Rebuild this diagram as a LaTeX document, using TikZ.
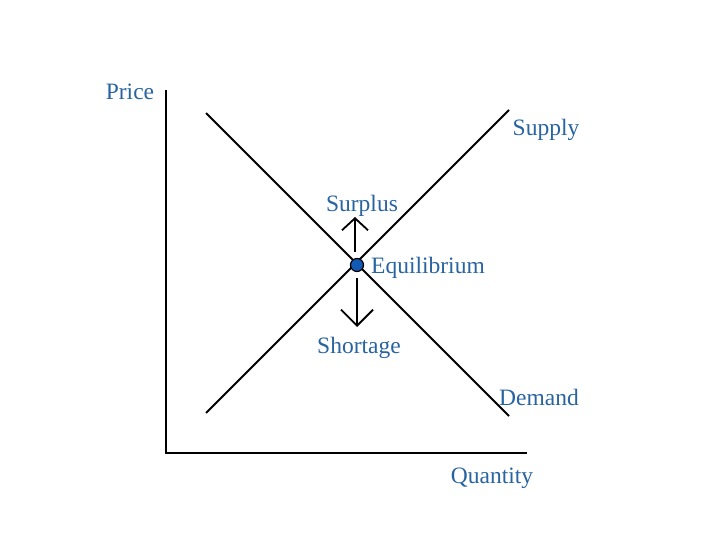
\documentclass[tikz,border=0pt]{standalone}
\usepackage{fontspec}
\setmainfont{Liberation Serif}
\usetikzlibrary{arrows.meta}
\definecolor{lbl}{RGB}{40,100,160}
\definecolor{dotblue}{RGB}{20,90,180}
\begin{document}
\begin{tikzpicture}[x=1pt,y=-1pt,
  lab/.style={text=lbl,font=\fontsize{23.5}{28}\selectfont,inner sep=0pt},
  ln/.style={line width=1.8pt,black},
  arr/.style={line width=1.8pt,black,-{Straight Barb[length=12pt,width=26pt,line width=1.8pt]}}]
\useasboundingbox (0,0) rectangle (720,540);
\coordinate (ytop) at (166,90);
\coordinate (orig) at (166,453);
\coordinate (xend) at (527,453);
\draw[ln] (ytop) -- (orig) -- (xend);
\coordinate (d1) at (206,113);
\coordinate (d2) at (509,416);
\coordinate (s1) at (206,413);
\coordinate (s2) at (509,110);
\draw[ln] (d1) -- (d2);
\draw[ln] (s1) -- (s2);
\coordinate (up0) at (355,252);
\coordinate (up1) at (355,217);
\coordinate (dn0) at (357,278);
\coordinate (dn1) at (357,327);
\draw[arr] (up0) -- (up1);
\draw[arr,-{Straight Barb[length=16pt,width=32pt,line width=1.8pt]}] (dn0) -- (dn1);
\node[circle,draw=black,fill=dotblue,line width=1.2pt,minimum size=13pt,inner sep=0pt] (eq) at (357,265) {};
\node[lab] (price) at (130,92) {Price};
\node[lab] (supply) at (546,130) {Supply};
\node[lab] (surplus) at (362,206) {Surplus};
\node[lab,anchor=west] (equil) at (371,268) {Equilibrium};
\node[lab] (short) at (359,348) {Shortage};
\node[lab] (demand) at (539,397) {Demand};
\node[lab] (qty) at (492,478) {Quantity};
\end{tikzpicture}
\end{document}
